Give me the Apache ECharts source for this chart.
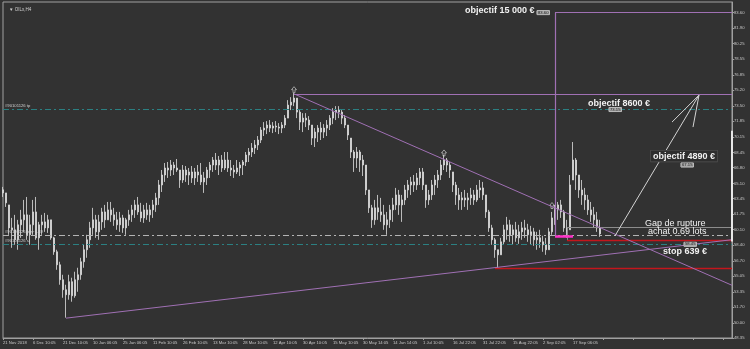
<!DOCTYPE html>
<html><head><meta charset="utf-8">
<script src="https://cdn.jsdelivr.net/npm/echarts@6/dist/echarts.min.js"></script>
<style>html,body{margin:0;padding:0;background:#323232}#c{width:750px;height:349px}</style>
</head><body><div id="c"></div>
<script>
const xTickLabels = ['21 Nov 2018','6 Dec 10:05','21 Dec 10:05','10 Jan 06:05','25 Jan 06:05','11 Feb 10:05','26 Feb 10:05','13 Mar 10:05','28 Mar 10:05','12 Apr 10:05','30 Apr 10:05','15 May 10:05','30 May 14:05','14 Jun 14:05','1 Jul 10:05','16 Jul 22:05','31 Jul 22:05','15 Aug 22:05','2 Sep 02:05','17 Sep 06:05'];
const yTicks = [48.35,50.00,51.70,53.35,55.05,56.70,58.40,60.10,61.75,63.45,65.10,66.80,68.45,70.15,71.85,73.50,75.20,76.85,78.55,80.25,81.90,83.60];

const highs = [
64.72,64.07,62.77,61.36,61.69,61.15,62.23,63.31,63.63,61.69,
63.31,63.63,60.93,61.69,61.90,61.69,61.15,59.31,57.91,56.61,
55.20,54.12,55.20,54.88,55.53,55.96,57.04,58.45,59.53,60.93,
62.45,61.69,61.69,62.45,62.77,63.09,63.09,62.45,62.01,62.01,
61.69,61.36,62.23,62.77,63.31,63.63,62.99,62.77,62.99,62.77,
63.31,64.07,65.47,66.55,67.31,67.42,67.63,67.42,67.74,66.55,
67.09,66.98,66.77,66.98,66.77,67.09,67.31,66.34,66.88,67.42,
67.96,68.39,68.07,68.17,68.50,68.50,67.63,67.09,67.63,67.42,
67.63,68.50,68.93,69.47,69.80,70.23,71.20,71.74,71.85,71.96,
71.74,71.85,71.63,71.74,72.50,74.12,74.44,74.88,74.34,73.04,
72.71,72.71,72.39,71.42,71.09,71.42,71.74,71.52,71.96,72.50,
73.25,73.47,73.47,73.04,72.50,71.42,70.01,68.72,69.04,68.72,
68.17,67.09,64.39,62.77,63.31,63.85,63.53,62.77,62.01,62.77,
63.53,64.61,64.39,63.85,64.93,65.47,65.80,66.01,66.23,66.77,
66.77,64.93,64.39,65.47,66.01,66.55,67.63,68.17,67.85,67.42,
66.34,65.26,64.61,64.17,64.39,64.07,64.61,64.39,64.93,65.47,
65.26,63.85,62.23,60.61,59.20,57.91,59.20,60.61,61.47,61.15,
60.61,60.93,60.61,60.93,61.15,60.72,60.50,60.28,59.85,60.07,
59.42,59.20,60.28,62.01,62.77,63.09,63.31,62.23,61.15,66.01,
69.58,67.85,66.01,65.47,64.61,63.85,63.09,62.55,62.01,61.15];
const lows = [
63.63,62.55,59.53,58.12,58.45,57.91,59.20,59.85,58.99,58.45,
59.53,58.99,57.91,59.53,59.85,59.74,58.99,57.36,55.74,54.12,
52.71,50.55,52.50,52.28,52.71,53.36,54.66,55.96,57.04,58.12,
59.53,59.20,58.99,60.07,60.28,61.15,60.93,60.50,60.07,59.85,
59.74,59.53,60.50,60.93,61.36,61.69,60.93,60.82,61.15,60.93,
61.36,62.01,62.77,64.17,65.26,65.69,65.90,66.01,66.34,64.61,
65.15,65.26,64.93,65.15,64.93,65.26,64.93,64.07,64.93,65.69,
66.34,66.55,66.01,66.34,66.55,66.34,65.90,65.69,66.12,65.90,
66.01,66.98,67.42,67.96,68.28,68.72,69.47,70.23,70.44,70.66,
70.55,70.66,70.44,70.55,71.09,72.17,73.04,73.47,72.17,70.88,
70.66,71.20,70.88,69.26,69.04,69.58,69.80,70.01,70.23,70.88,
71.52,71.96,72.17,71.52,71.09,69.80,67.85,66.34,66.77,66.34,
65.90,63.85,61.90,60.28,60.61,61.15,60.93,60.07,59.53,60.28,
60.93,62.23,61.69,60.93,62.77,63.53,63.85,64.17,64.39,64.93,
64.39,62.45,62.77,63.31,63.85,64.61,65.47,66.55,66.34,65.69,
64.17,62.77,62.23,62.23,62.55,62.23,62.77,62.77,63.09,63.53,
63.31,61.36,59.85,58.45,57.04,55.96,57.36,58.45,58.99,58.77,
58.45,58.77,58.55,58.99,59.20,58.77,58.45,58.34,57.91,58.12,
57.69,57.36,57.91,59.53,60.61,61.15,61.36,59.85,59.20,60.07,
65.47,64.39,63.53,62.77,62.23,61.69,60.93,60.28,59.85,59.31];
const closes = [
64.07,62.99,60.28,60.07,58.99,60.61,61.15,61.69,59.53,60.61,
62.01,59.20,60.61,60.93,60.28,61.15,59.20,57.69,56.28,54.66,
53.58,53.04,54.45,52.93,54.66,55.20,56.61,57.91,58.99,60.28,
61.15,59.85,60.93,62.01,61.15,62.23,61.69,61.15,60.61,61.36,
60.28,61.15,61.69,62.23,62.77,62.01,61.36,62.23,61.69,62.23,
62.77,63.53,64.93,66.01,66.77,66.55,67.09,66.77,66.55,65.47,
66.55,66.01,66.34,65.69,66.34,66.01,65.26,65.69,66.55,67.09,
67.63,67.09,67.63,66.77,67.63,66.77,66.55,66.34,66.77,67.09,
67.42,68.17,68.50,68.93,69.26,69.80,70.88,71.09,71.42,71.09,
71.31,71.20,71.09,71.42,72.17,73.58,73.90,74.34,72.82,71.74,
72.17,71.96,71.42,70.01,70.66,71.09,70.66,71.09,71.42,72.17,
72.82,73.04,72.82,72.17,71.42,70.34,68.50,67.85,68.50,67.63,
67.09,64.39,62.45,61.15,62.45,62.01,61.69,60.61,61.15,62.23,
62.77,63.85,62.77,63.31,64.39,64.93,65.26,64.93,65.69,66.34,
64.93,63.31,63.85,64.93,65.47,66.01,67.09,67.63,67.09,66.55,
64.93,63.85,63.31,63.53,63.31,63.53,63.85,63.31,64.39,64.61,
63.85,62.01,60.28,58.99,57.91,57.36,58.77,60.07,60.61,59.53,
60.07,59.20,59.85,60.28,60.07,59.53,59.85,58.99,59.20,58.77,
58.45,57.91,59.85,61.36,62.23,62.77,62.01,60.28,59.85,64.93,
67.63,66.01,64.39,63.85,63.31,62.23,61.69,61.15,60.28,59.63];
const firstOpen = 64.40;

const N_SLOTS = 244;
const categories = Array.from({length: N_SLOTS}, (_, i) => String(i));
const ohlc = closes.map((c, i) => {
  const prev = i ? closes[i - 1] : firstOpen;
  const o = Math.min(highs[i], Math.max(lows[i], prev));
  return [o, c, lows[i], highs[i]];
});

// trade levels (prices)
const tpLevel = 73.15, entryLevel = 59.49, slLevel = 58.50, bidPrice = 59.38;
const redLevel1 = 58.98, redLevel2 = 55.93, gapTop = 60.35, target15000 = 83.60, target8600 = 74.77;
const fractals = [[97, 75.25], [147, 68.40], [183, 62.70]];

const teal = '#2b8082', violet = '#a070b4', red = '#c4161c';
const dashDot = [6, 3, 2, 3];
const smallFont = {fontSize: 4.2, color: '#cfcfcf', fontFamily: 'Liberation Sans'};

function seg(a, b, style) { return [{coord: a, lineStyle: style}, {coord: b}]; }

const lineData = [
  {yAxis: tpLevel, lineStyle: {color: teal, type: dashDot, width: 1},
   label: Object.assign({show: true, position: 'insideStartTop', formatter: '#90101126 tp', distance: [2, 1]}, smallFont)},
  {yAxis: entryLevel, lineStyle: {color: '#b4b4b4', type: dashDot, width: 1},
   label: Object.assign({show: true, position: 'insideStartTop', formatter: '#90101126 buy 0.69', distance: [2, 1]}, smallFont)},
  {yAxis: slLevel, lineStyle: {color: teal, type: dashDot, width: 1},
   label: Object.assign({show: true, position: 'insideStartTop', formatter: '#90101126 sl', distance: [2, 1]}, smallFont)},
  seg([188, redLevel1], [243, redLevel1], {color: red, width: 1.3, type: 'solid'}),
  seg([164, redLevel2], [243, redLevel2], {color: red, width: 1.3, type: 'solid'}),
  seg([188, gapTop], [243, gapTop], {color: '#8c8c8c', width: 1, type: 'solid'}),
  seg([188, gapTop], [188, redLevel1], {color: '#8c8c8c', width: 1, type: 'solid'}),
  seg([184, bidPrice], [190, bidPrice], {color: '#ff30c8', width: 2.5, type: 'solid'}),
  seg([184, target15000], [243, target15000], {color: violet, width: 1.2, type: 'solid'}),
  seg([184, target15000], [184, bidPrice], {color: violet, width: 1.2, type: 'solid'}),
  seg([97, target8600], [243, target8600], {color: violet, width: 1.2, type: 'solid'}),
  seg([97, 74.80], [243, 54.06], {color: violet, width: 1, type: 'solid'}),
  seg([21, 50.50], [243, 59.00], {color: violet, width: 1, type: 'solid'}),
  seg([204, 59.42], [232, 74.66], {color: '#d4d4d4', width: 1, type: 'solid'}),
  seg([232, 74.66], [223, 71.74], {color: '#d4d4d4', width: 1, type: 'solid'}),
  seg([232, 74.66], [230, 71.20], {color: '#d4d4d4', width: 1, type: 'solid'}),
  seg([243, 70.80], [243, 58.80], {color: '#e8e8e8', width: 2, type: 'solid'}),
  {yAxis: bidPrice, lineStyle: {opacity: 0},
   label: {show: true, position: 'end', distance: 1, formatter: '59.38', backgroundColor: '#e6e6e6', color: '#111', fontSize: 4.2, padding: [0, 1], fontFamily: 'Liberation Sans'}}
];

const bigText = {fontSize: 9, color: '#f2f2f2', fontFamily: 'Liberation Sans', fontWeight: 'bold'};
const tagText = {fontSize: 4.2, color: '#1a1a1a', backgroundColor: '#a9a9a9', borderColor: '#d0d0d0', borderWidth: 0.5, padding: [0, 1], fontFamily: 'Liberation Sans'};
function note(coord, text, style) {
  return {coord: coord, symbolSize: 0, label: Object.assign({show: true, position: [0, 0], align: 'left', verticalAlign: 'middle', formatter: text}, style)};
}
const pointData = [
  note([154, 83.85], 'objectif 15 000 €', bigText),
  note([178, 83.60], '83.60', tagText),
  note([195, 73.79], 'objectif 8600 €', bigText),
  note([202, 73.10], '73.15', tagText),
  note([216, 68.06], 'objectif 4890 €', Object.assign({}, bigText, {backgroundColor: '#2e2e2e', borderColor: '#555', borderWidth: 0.6, padding: [1, 2]})),
  note([226, 67.09], '67.15', tagText),
  note([214, 60.76], 'Gap de rupture', Object.assign({}, bigText, {fontWeight: 'normal'})),
  note([215, 59.84], 'achat 0.69 lots', Object.assign({}, bigText, {fontWeight: 'normal'})),
  note([220, 57.68], 'stop 639 €', bigText),
  note([227, 58.50], '58.45', tagText)
];

const chart = echarts.init(document.getElementById('c'), null, {renderer: 'canvas'});
chart.setOption({
  animation: false,
  backgroundColor: '#323232',
  title: {text: '▼ OILx,H4', left: 4, top: 2, textStyle: {fontSize: 4.5, color: '#d0d0d0', fontWeight: 'normal', fontFamily: 'Liberation Sans'}},
  grid: {left: 2, right: 18, top: 2, bottom: 11, show: true, borderColor: '#a0a0a0', borderWidth: 1, backgroundColor: 'transparent'},
  xAxis: {
    type: 'category', data: categories, boundaryGap: false,
    axisLine: {lineStyle: {color: '#a0a0a0'}},
    axisTick: {show: true, interval: 9, length: 2, lineStyle: {color: '#a0a0a0'}},
    axisLabel: {interval: 9, align: 'left', margin: 3, fontSize: 4.2, color: '#c8c8c8', fontFamily: 'Liberation Sans',
      formatter: (v, i) => xTickLabels[i / 10] || ''},
    splitLine: {show: false}
  },
  yAxis: {
    type: 'value', position: 'right', min: 48.35, max: 84.75, scale: true,
    axisLine: {show: true, lineStyle: {color: '#a0a0a0'}},
    axisTick: {show: true, length: 2, customValues: yTicks, lineStyle: {color: '#a0a0a0'}},
    axisLabel: {customValues: yTicks, margin: 2, fontSize: 4.2, color: '#c8c8c8', fontFamily: 'Liberation Sans', formatter: v => v.toFixed(2)},
    splitLine: {show: false}
  },
  series: [
    {
      type: 'candlestick', data: ohlc, barWidth: 2.4,
      itemStyle: {color: '#dedede', color0: '#dedede', borderColor: '#dedede', borderColor0: '#dedede', borderWidth: 0.8},
      markLine: {symbol: ['none', 'none'], silent: true, animation: false, label: {show: false}, emphasis: {disabled: true}, data: lineData},
      markPoint: {silent: true, animation: false, data: pointData}
    },
    {
      type: 'scatter', data: fractals, symbol: 'path://M5,0 L10,5 L7,5 L7,10 L3,10 L3,5 L0,5 Z', symbolSize: [5, 6],
      itemStyle: {color: 'rgba(0,0,0,0)', borderColor: '#d8d8d8', borderWidth: 0.8}, silent: true
    }
  ]
});
</script></body></html>
